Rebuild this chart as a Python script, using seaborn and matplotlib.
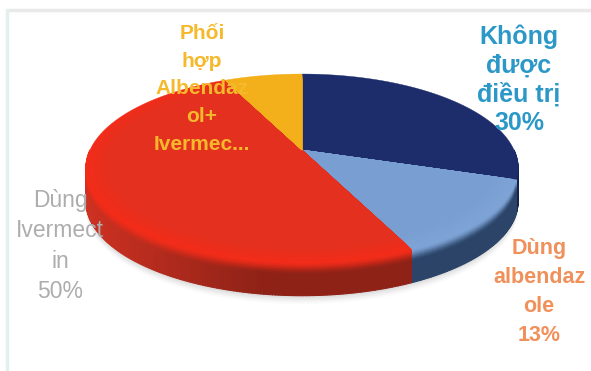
import numpy as np
import matplotlib
matplotlib.use("Agg")
import matplotlib.pyplot as plt
from matplotlib.collections import PolyCollection
from matplotlib.colors import to_rgb
from matplotlib.patches import Polygon
import seaborn as sns

# Treatment shares (percent)
categories = ["Không được điều trị", "Dùng albendazole", "Dùng Ivermectin", "Phối hợp Albendazol + Ivermectin"]
values = [30, 13, 50, 7]
top_colors = ["#1d2d6b", "#799fd2", "#e4301f", "#f3b01b"]
rim_colors = ["#1d2d6b", "#7ea4d6", "#f22c19", "#f3b01b"]
side_colors = ["#16224f", "#2b4468", "#8e2217", "#b07a10"]

label_lines = [
    "Không\nđược\nđiều trị\n30%",
    "Dùng\nalbendaz\nole\n13%",
    "Dùng\nIvermect\nin\n50%",
    "Phối\nhợp\nAlbendaz\nol+\nIvermec...",
]
label_colors = ["#2c98c8", "#f0905a", "#adadad", "#f5b92c"]

sns.set_theme(style="white")
plt.rcParams["font.family"] = ["Liberation Sans", "DejaVu Sans"]

W, H = 591, 371
fig = plt.figure(figsize=(W / 100, H / 100), dpi=100, facecolor="white")

# Wedge angles come from matplotlib's own pie layout on a helper axes
helper = fig.add_axes([0, 0, 1, 1])
wedges, _ = helper.pie(values, startangle=90, counterclock=False)
angles = [(w.theta1, w.theta2) for w in wedges]
helper.remove()

ax = fig.add_axes([0, 0, 1, 1])
ax.set_xlim(0, W)
ax.set_ylim(H, 0)
ax.axis("off")

# Perspective projection of the unit disc on to the page
CX, CY, RX, RY, TILT, DEPTH = 302, 150, 212, 90.5, 0.1915, 33


def project(x, y, scale=1.0):
    x, y = np.asarray(x) * scale, np.asarray(y) * scale
    d = 1 + TILT * y
    return CX + RX * x / d, CY - RY * y / d


def arc(t1, t2, n=90):
    t = np.radians(np.linspace(t1, t2, n))
    return np.cos(t), np.sin(t)


# Page edges
ax.plot([6, 591], [9.5, 9.5], color="#e9e9e9", lw=2.5, solid_capstyle="butt")
ax.plot([6.5, 6.5], [9, 371], color="#e4f0f0", lw=2.5, solid_capstyle="butt")

# Soft shadow under the disc
xs, ys = arc(180, 360, 160)
for off, a in zip([9, 7, 5, 3], [0.04, 0.06, 0.08, 0.10]):
    px, py = project(xs, ys)
    ax.add_patch(Polygon(np.column_stack([px, py + DEPTH + off]), closed=True,
                         fc="#808080", ec="none", alpha=a, zorder=1))

# Extruded side: short quads along the front-facing arc, blending from the rim colour to a dark base
steps = 22
for (t1, t2), side, rim in zip(angles, side_colors, rim_colors):
    lo, hi = min(t1, t2), max(t1, t2)
    segs, cols = [], []
    for a, b in [(lo, hi), (lo - 360, hi - 360), (lo + 360, hi + 360)]:
        s, e = max(a, 180), min(b, 360)
        if e <= s:
            continue
        ux, uy = arc(s, e, max(int((e - s) * 1.5), 3))
        px, py = project(ux, uy)
        base = np.array(to_rgb(side))
        edge = np.array(to_rgb(rim))
        for i in range(len(px) - 1):
            # the left of the rim catches more light
            light = 1.0 + 0.45 * np.clip((CX - 40 - px[i]) / 176, 0, 1)
            for k in range(steps):
                d0, d1 = DEPTH * k / steps, DEPTH * (k + 1.5) / steps
                frac = k / (steps - 1)
                blend = np.clip(frac / 0.4, 0, 1)
                blend = blend * blend * (3 - 2 * blend)
                col = edge * (1 - blend) + np.clip(base * light, 0, 1) * blend
                segs.append([(px[i], py[i] + d0), (px[i + 1], py[i + 1] + d0),
                             (px[i + 1], py[i + 1] + d1), (px[i], py[i] + d1)])
                cols.append(col)
    if segs:
        ax.add_collection(PolyCollection(segs, facecolors=cols, edgecolors=cols, linewidths=0.8, zorder=2))

# Top face: bright rim that eases into the main colour
cx0, cy0 = project(0, 0)
for (t1, t2), rim, top in zip(angles, rim_colors, top_colors):
    ux, uy = arc(t1, t2)
    rim_rgb, top_rgb = np.array(to_rgb(rim)), np.array(to_rgb(top))
    for scale in np.linspace(1.0, 0.90, 9):
        mix = (1.0 - scale) / 0.10
        colour = rim_rgb * (1 - mix) + top_rgb * mix
        px, py = project(ux, uy, scale)
        pts = np.column_stack([np.r_[float(cx0), px], np.r_[float(cy0), py]])
        ax.add_patch(Polygon(pts, closed=True, fc=colour, ec=colour, lw=0.3, zorder=3))

# Category labels
label_style = [
    dict(x=519, y=80, size=18, weight="bold", linespacing=1.24),
    dict(x=539, y=292, size=15.5, weight="bold", linespacing=1.5),
    dict(x=60, y=246, size=16.5, weight="normal", linespacing=1.42),
    dict(x=202, y=89, size=15, weight="bold", linespacing=1.58),
]
for text, colour, st in zip(label_lines, label_colors, label_style):
    ax.text(st["x"], st["y"], text, color=colour, ha="center", va="center", multialignment="center",
            fontsize=st["size"], fontweight=st["weight"], linespacing=st["linespacing"], zorder=5)

fig.savefig("out.png", dpi=100, facecolor="white")
